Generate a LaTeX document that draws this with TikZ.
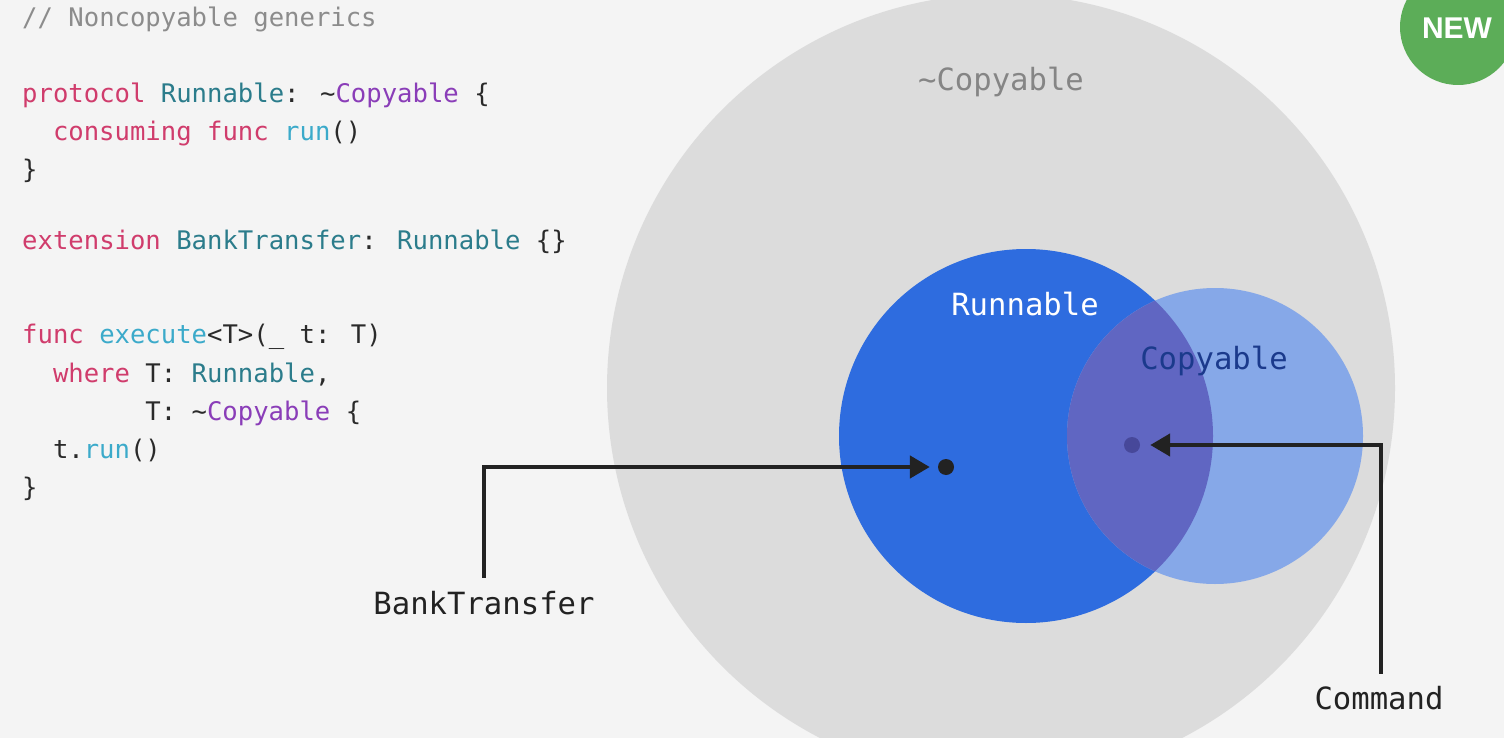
\documentclass[tikz,border=0pt]{standalone}
\usepackage{fontspec}
\usepackage{tikz}
\usetikzlibrary{positioning}
\usetikzlibrary{arrows.meta}
\newfontfamily\codefont{DejaVu Sans Mono}
\newfontfamily\badgefont{Liberation Sans}
\definecolor{bgc}{HTML}{F4F4F4}
\definecolor{outerc}{HTML}{DCDCDC}
\definecolor{runc}{HTML}{2E6CDF}
\definecolor{copyc}{HTML}{86A8E8}
\definecolor{bothc}{HTML}{6066C2}
\definecolor{newc}{HTML}{5CAD58}
\definecolor{kwdc}{HTML}{D03C6C}
\definecolor{typc}{HTML}{2B7C8B}
\definecolor{ncpc}{HTML}{8A3DB8}
\definecolor{fncc}{HTML}{3BAACA}
\definecolor{plainc}{HTML}{2A2A2A}
\definecolor{cmtc}{HTML}{8C8C8C}
\definecolor{navyc}{HTML}{1B3A8C}
\definecolor{linec}{HTML}{222222}
\definecolor{cmddotc}{HTML}{47489A}
\newcommand{\kwd}[1]{\textcolor{kwdc}{#1}}
\newcommand{\typ}[1]{\textcolor{typc}{#1}}
\newcommand{\ncp}[1]{\textcolor{ncpc}{#1}}
\newcommand{\fnc}[1]{\textcolor{fncc}{#1}}

\begin{document}
\begin{tikzpicture}[x=1pt,y=-1pt,
  code/.style={anchor=base west, inner sep=0pt, text=plainc, font=\codefont\fontsize{25.6}{30}\selectfont},
  lbl/.style={inner sep=0pt, font=\codefont\fontsize{30.6}{36}\selectfont},
  dot/.style={circle, inner sep=0pt},
  conn/.style={draw=linec, line width=4.6pt, -{Triangle[length=20pt,width=22pt]}}]
\useasboundingbox (0,0) rectangle (1504,738);
\fill[bgc] (0,0) rectangle (1504,738);

\fill[outerc] (1001,388) circle[radius=394pt];
\fill[runc]  (1026,436) circle[radius=187pt];
\fill[copyc] (1215,436) circle[radius=148pt];
\begin{scope}
\clip (1026,436) circle[radius=187pt];
\fill[bothc] (1215,436) circle[radius=148pt];
\end{scope}
\fill[newc] (1458,27) circle[radius=58pt];
\node[text=white, inner sep=0pt, font=\badgefont\bfseries\fontsize{30}{36}\selectfont] (badge) at (1457,28) {NEW};

\node[code, text=cmtc] (comment) at (22,27) {// Noncopyable generics};
\node[code] (proto) at (22,103) {\kwd{protocol} \typ{Runnable}: \textasciitilde\ncp{Copyable} \{};
\node[code] (consume) at (52.8,141) {\kwd{consuming} \kwd{func} \fnc{run}()};
\node[code] (protoend) at (22,179) {\}};
\node[code] (ext) at (22,249) {\kwd{extension} \typ{BankTransfer}: \typ{Runnable} \{\}};
\node[code] (execfn) at (22,343) {\kwd{func} \fnc{execute}<T>(\_ t: T)};
\node[code] (whereone) at (52.8,382) {\kwd{where} T: \typ{Runnable},};
\node[code] (wheretwo) at (145.2,420) {T: \textasciitilde\ncp{Copyable} \{};
\node[code] (body) at (52.8,458) {t.\fnc{run}()};
\node[code] (execend) at (22,496) {\}};

\node[lbl, text=cmtc!95!black] (outerlbl) at (1001,82) {\textasciitilde Copyable};
\node[lbl, text=white] (runlbl) at (1025,304) {Runnable};
\node[lbl, text=navyc] (copylbl) at (1214,361) {Copyable};

\node[dot, fill=linec, minimum size=16pt] (bank) at (946,467) {};
\node[dot, fill=cmddotc, minimum size=16pt] (cmd) at (1132,445) {};
\node[lbl, text=linec] (banklbl) at (484,603) {BankTransfer};
\node[lbl, text=linec] (cmdlbl) at (1379,698) {Command};

\draw[conn, shorten >=8pt] ([yshift=13pt]banklbl.north) |- (bank);
\draw[conn, shorten >=10pt] ([xshift=2pt,yshift=12pt]cmdlbl.north) |- (cmd);
\end{tikzpicture}
\end{document}
